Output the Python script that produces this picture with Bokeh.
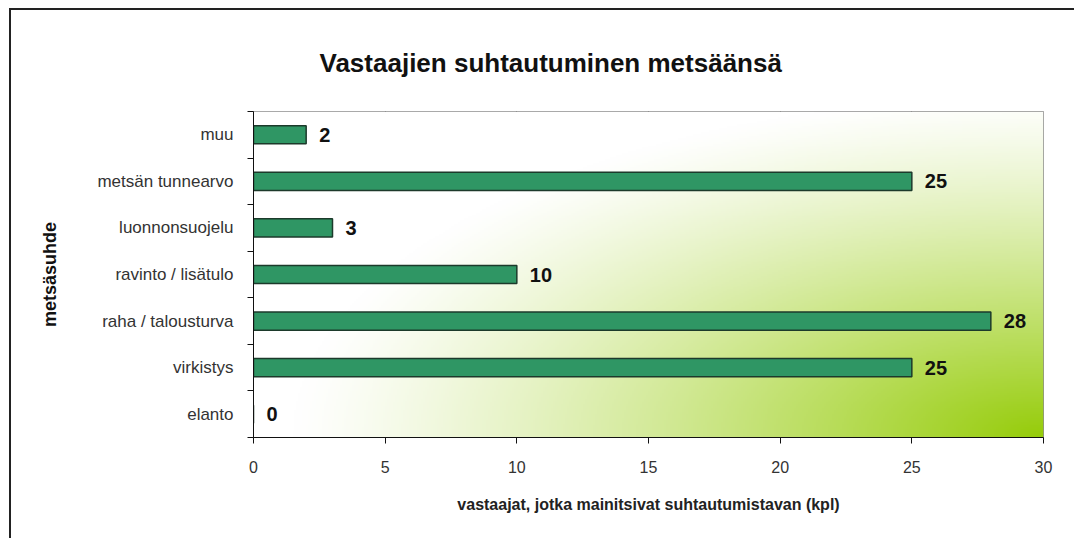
import numpy as np
from bokeh.plotting import figure
from bokeh.models import FixedTicker, Range1d
from bokeh.core.properties import value
from bokeh.embed import file_html
from bokeh.resources import INLINE

# ---- data (bottom to top) ----
categories = ["elanto", "virkistys", "raha / talousturva", "ravinto / lisätulo",
              "luonnonsuojelu", "metsän tunnearvo", "muu"]
counts = [0, 25, 28, 10, 3, 25, 2]
x_ticks = [0, 5, 10, 15, 20, 25, 30]

title_text = "Vastaajien suhtautuminen metsäänsä"
x_label = "vastaajat, jotka mainitsivat suhtautumistavan (kpl)"
y_label = "metsäsuhde"

FONT = "Liberation Sans"
n = len(categories)
y_pos = [i + 0.5 for i in range(n)]

p = figure(width=1065, height=530, output_backend="svg", toolbar_location=None,
           x_range=Range1d(0, 30), y_range=Range1d(0, n),
           min_border_left=242, min_border_right=33, min_border_top=101,
           min_border_bottom=103)
p.styles = {"border-left": "2px solid #222", "border-top": "2px solid #222",
            "margin-left": "9px", "margin-top": "8px"}
p.background_fill_color = "white"
p.border_fill_color = "white"
p.outline_line_color = "#8c8c8c"
p.outline_line_width = 1

# title
p.title.text = title_text
p.title.text_font = FONT
p.title.text_font_size = "26px"
p.title.text_font_style = "bold"
p.title.text_color = "#111111"
p.title.text_line_height = 0.8
p.title.align = "left"
p.title.offset = 66
p.title.standoff = 68

# gradient background (from lower-right corner)
nx, ny = 400, 170
gx = np.linspace(0, 1, nx)
gy = np.linspace(0, 1, ny)
GX, GY = np.meshgrid(gx, gy)
t = np.sqrt(((1 - GX) / 0.95) ** 2 + (GY / 1.05) ** 2)
a = np.clip(1 - t, 0, 1) ** 1.2
r = (255 * (1 - a) + 150 * a).astype(np.uint32)
g = (255 * (1 - a) + 204 * a).astype(np.uint32)
b = (255 * (1 - a) + 10 * a).astype(np.uint32)
img = (255 << 24) | (b << 16) | (g << 8) | r
p.image_rgba(image=[img.astype(np.uint32)], x=0, y=0, dw=30, dh=n)

# grid
p.xgrid.ticker = FixedTicker(ticks=x_ticks[1:-1])
p.xgrid.grid_line_color = "#111111"
p.xgrid.grid_line_width = 1
p.ygrid.grid_line_color = None

# bars
p.hbar(y=y_pos, right=counts, left=0, height=0.39,
       fill_color="#2f9664", line_color="#1c3a2b", line_width=1.5)

# value labels
p.text(x=counts, y=y_pos, text=[str(c) for c in counts], x_offset=13,
       text_baseline="middle", text_align="left",
       text_font=value(FONT), text_font_size="20px", text_font_style="bold",
       text_color="#111111")

# x axis
xa = p.xaxis[0]
xa.ticker = FixedTicker(ticks=x_ticks)
xa.axis_line_color = "#111111"
xa.major_tick_line_color = "#111111"
xa.major_tick_out = 6
xa.major_tick_in = 0
xa.minor_tick_line_color = None
xa.major_label_text_font = FONT
xa.major_label_text_font_size = "16px"
xa.major_label_text_color = "#333333"
xa.major_label_standoff = 17
xa.axis_label = x_label
xa.axis_label_text_font = FONT
xa.axis_label_text_font_size = "16px"
xa.axis_label_text_font_style = "bold"
xa.axis_label_text_color = "#222222"
xa.axis_label_standoff = 20

# y axis
ya = p.yaxis[0]
ya.ticker = FixedTicker(ticks=y_pos, minor_ticks=list(range(n + 1)))
ya.major_label_overrides = {yp: c for yp, c in zip(y_pos, categories)}
ya.axis_line_color = "#111111"
ya.major_tick_line_color = None
ya.minor_tick_line_color = "#111111"
ya.minor_tick_out = 6
ya.minor_tick_in = 0
ya.major_label_text_font = FONT
ya.major_label_text_font_size = "17px"
ya.major_label_text_color = "#333333"
ya.major_label_standoff = 14
ya.axis_label = y_label
ya.axis_label_text_font = FONT
ya.axis_label_text_font_size = "18px"
ya.axis_label_text_font_style = "bold"
ya.axis_label_text_color = "#111111"
ya.axis_label_standoff = 34

open("out.html", "w").write(file_html(p, INLINE))
